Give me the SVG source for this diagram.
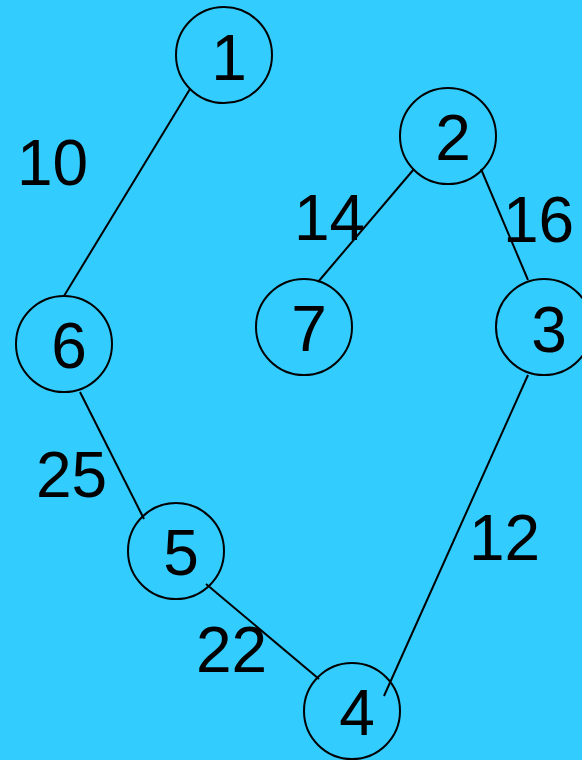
<svg xmlns="http://www.w3.org/2000/svg" width="582" height="760" viewBox="0 0 582 760">
<style>
.n circle{fill:none;stroke:#000;stroke-width:2}
text{font-family:"Liberation Sans",Arial,sans-serif;font-size:64px;fill:#000}
.n text{text-anchor:middle}
#edges line{stroke:#000;stroke-width:2}
</style>
<rect width="582" height="760" fill="#33CCFF"/>
<g id="edges">
<line x1="190" y1="89" x2="64" y2="296"/>
<line x1="414" y1="169" x2="318" y2="282"/>
<line x1="481" y1="169" x2="528" y2="280"/>
<line x1="80" y1="392" x2="144" y2="519"/>
<line x1="206" y1="584" x2="319" y2="679"/>
<line x1="528" y1="375" x2="384" y2="696"/>
</g>
<g id="labels">
<text x="17" y="185">10</text>
<text x="294" y="240">14</text>
<text x="503" y="242">16</text>
<text x="36" y="497">25</text>
<text x="469" y="560">12</text>
<text x="196" y="672">22</text>
</g>
<g id="node1" class="n"><circle cx="224" cy="55" r="48"/><text x="229" y="80">1</text></g>
<g id="node2" class="n"><circle cx="448" cy="136" r="48"/><text x="453" y="160">2</text></g>
<g id="node7" class="n"><circle cx="304" cy="327" r="48"/><text x="309" y="351">7</text></g>
<g id="node3" class="n"><circle cx="544" cy="327" r="48"/><text x="549" y="352">3</text></g>
<g id="node6" class="n"><circle cx="64" cy="344" r="48"/><text x="69" y="368">6</text></g>
<g id="node5" class="n"><circle cx="176" cy="551" r="48"/><text x="181" y="575">5</text></g>
<g id="node4" class="n"><circle cx="352" cy="711" r="48"/><text x="357" y="735">4</text></g>
</svg>
